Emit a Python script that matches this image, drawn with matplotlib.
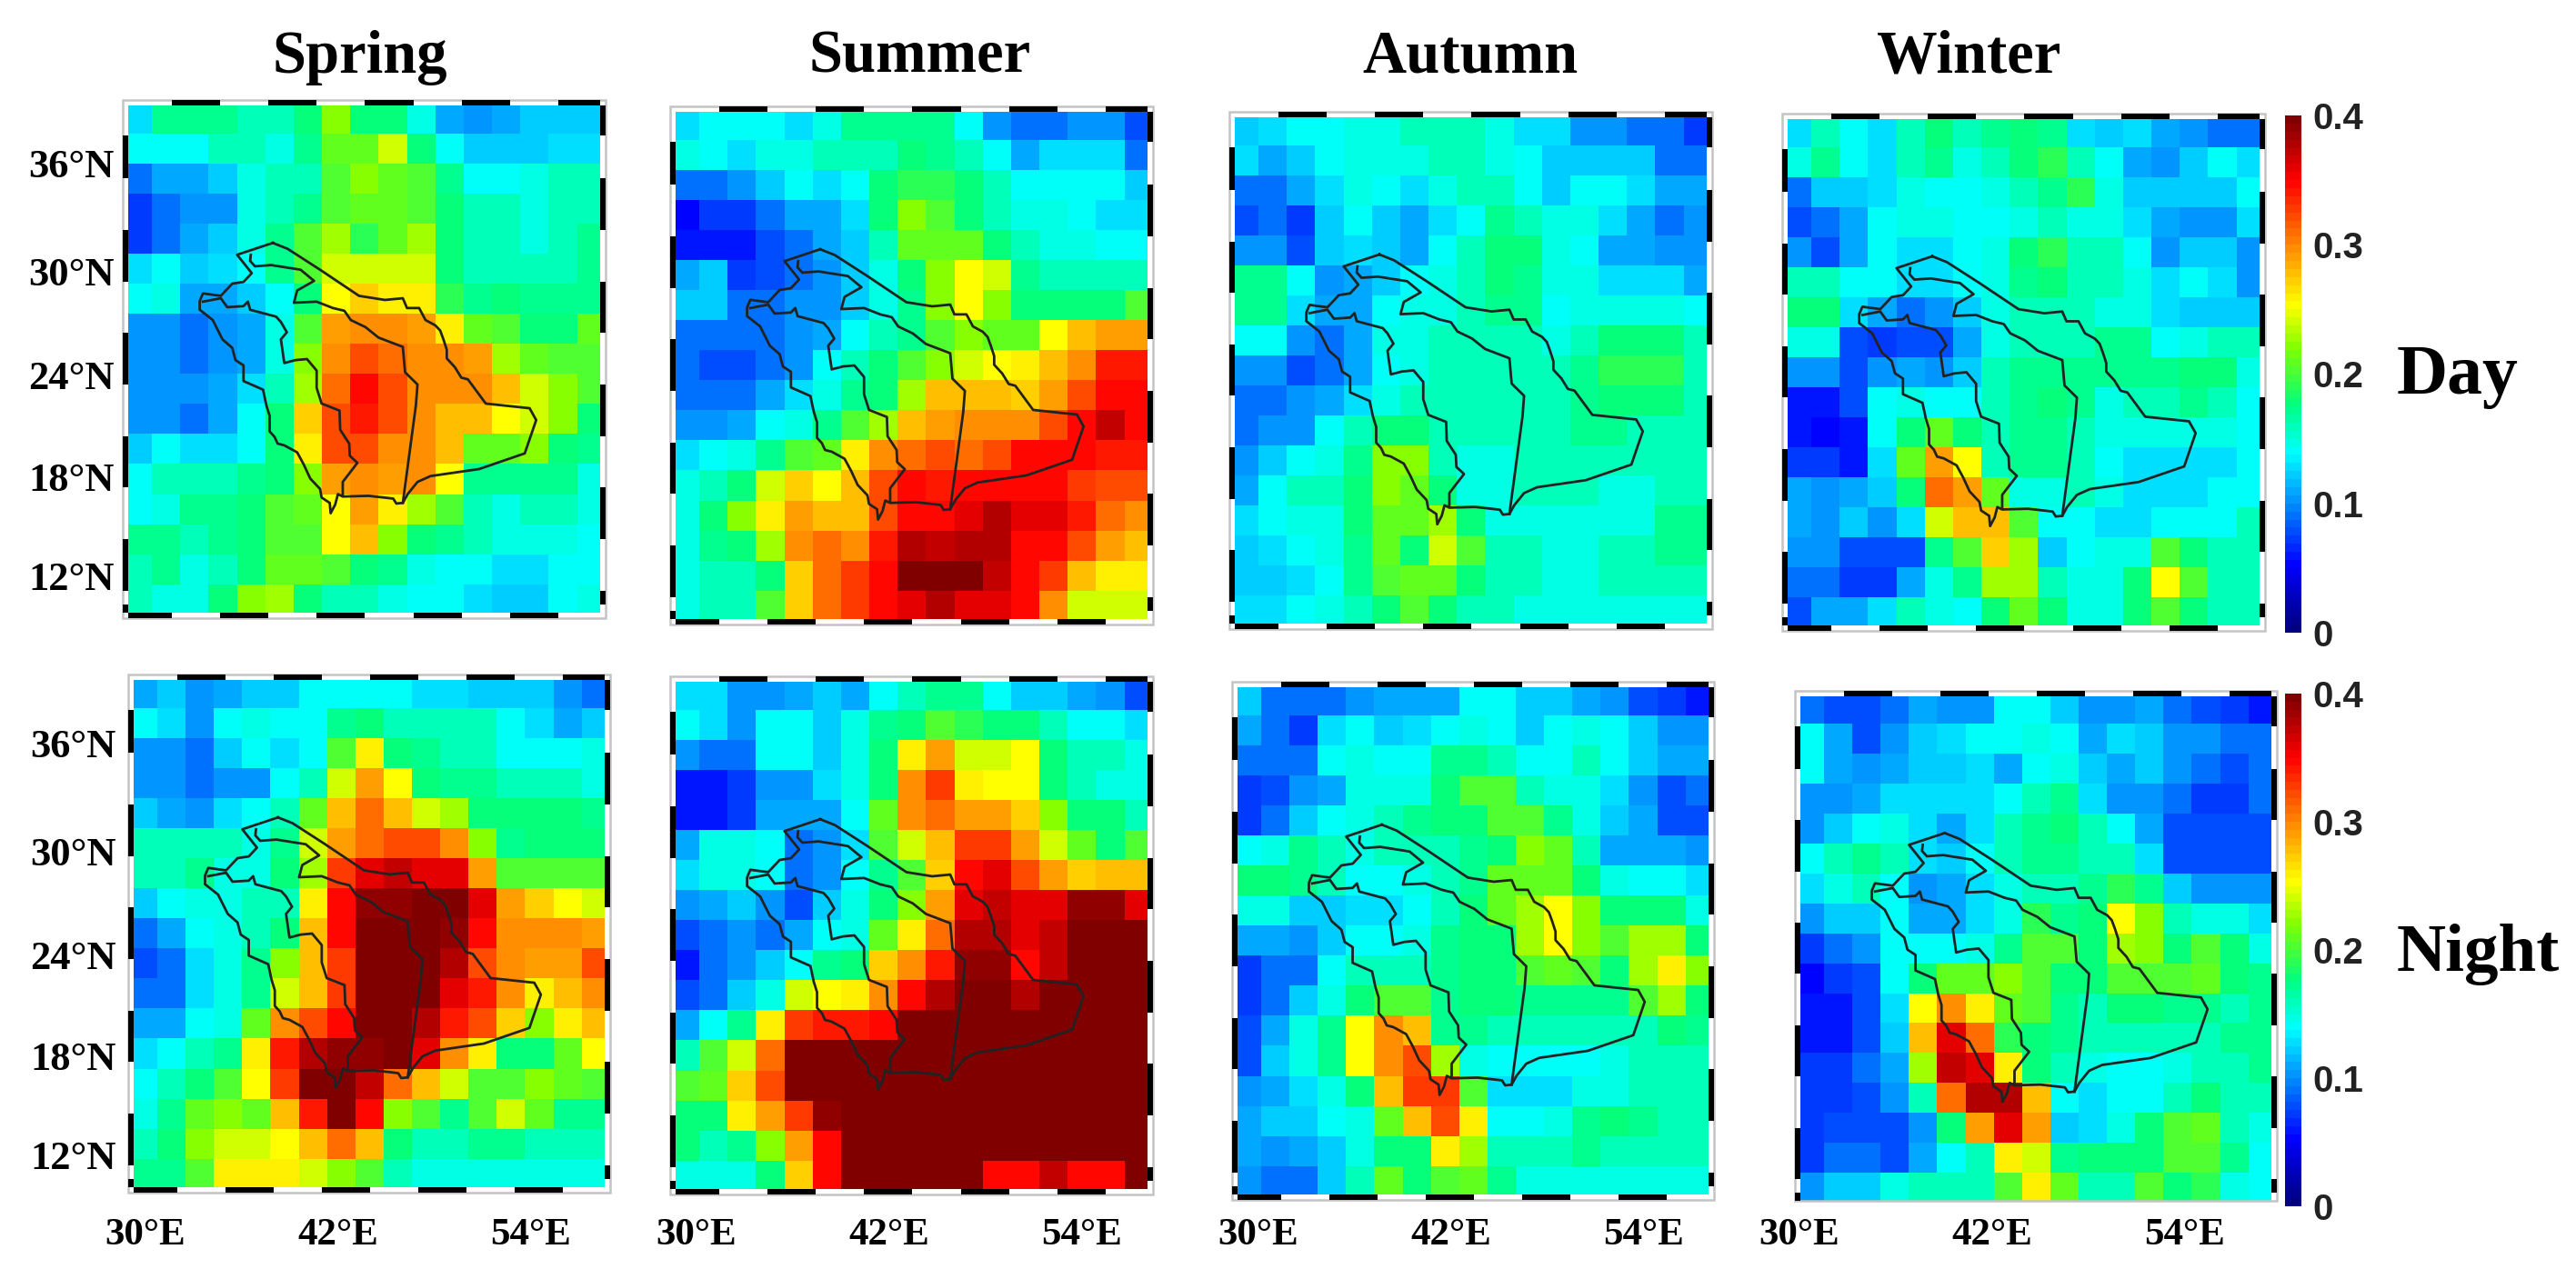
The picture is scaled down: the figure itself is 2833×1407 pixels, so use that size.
import matplotlib
matplotlib.use('Agg')
import matplotlib.pyplot as plt
import numpy as np
from matplotlib.colors import LinearSegmentedColormap
from matplotlib.patches import Rectangle
from matplotlib.cm import ScalarMappable
from matplotlib.colors import Normalize

# cell values in units of 0.01, rows from north to south
spring_day = [
    [13,17,17,17,16,16,18,22,18,18,15,11,10,11,12,12,12],
    [14,14,14,16,16,15,17,21,21,24,18,14,12,12,12,13,13],
    [9,11,11,12,15,16,16,20,22,21,20,17,14,14,15,16,16],
    [7,9,10,10,15,16,17,20,21,21,20,18,16,16,15,16,16],
    [7,9,11,12,15,17,20,23,19,21,23,18,16,16,15,16,17],
    [13,14,12,13,14,17,20,24,24,24,24,18,16,16,16,16,17],
    [14,15,11,11,12,14,18,25,27,26,26,19,17,18,17,17,17],
    [10,10,9,10,11,15,20,29,30,30,29,26,21,20,18,18,21],
    [10,10,9,10,11,15,22,30,32,31,30,30,29,23,21,20,20],
    [10,10,10,11,13,16,23,31,35,32,30,30,30,28,24,22,20],
    [10,10,9,11,14,18,27,32,34,32,30,28,28,25,24,22,18],
    [12,14,13,13,14,18,26,32,32,30,30,28,21,21,22,18,17],
    [14,16,16,16,17,18,22,29,30,29,30,25,17,17,17,17,15],
    [14,15,17,17,18,20,21,25,29,26,23,20,16,15,16,16,15],
    [17,17,16,17,18,20,20,25,28,22,18,17,16,15,15,15,14],
    [16,17,15,16,18,21,21,20,18,17,15,14,14,13,13,14,14],
    [16,15,15,18,22,23,18,16,16,15,14,14,13,12,12,14,15],
]
summer_day = [
    [13,14,14,14,13,15,17,17,17,17,14,10,9,9,10,10,8],
    [15,14,13,15,15,16,16,16,18,17,16,14,11,13,13,13,9],
    [9,9,10,12,14,13,14,18,19,19,18,16,14,14,14,14,12],
    [5,7,7,9,11,11,13,18,22,20,18,16,15,15,14,13,13],
    [6,6,6,8,9,11,12,16,21,21,21,18,16,15,15,14,14],
    [11,12,7,8,9,10,12,15,18,22,25,24,17,16,16,16,16],
    [12,12,9,9,10,10,12,15,17,22,25,22,18,18,18,18,20],
    [9,9,9,9,10,11,14,16,17,20,22,21,21,25,28,29,29],
    [9,8,8,9,10,14,16,18,20,22,24,25,26,28,30,34,34],
    [9,9,9,11,13,15,17,18,23,28,28,28,27,29,32,35,35],
    [10,10,11,14,15,17,20,23,28,29,30,30,30,32,35,37,35],
    [13,14,15,17,20,21,26,30,31,32,31,32,35,35,35,34,34],
    [15,16,18,24,27,25,28,32,35,34,35,35,35,35,33,32,32],
    [15,18,22,26,29,28,28,32,35,35,36,38,36,36,34,31,30],
    [15,17,18,23,30,31,30,34,38,37,38,38,35,35,32,29,28],
    [15,16,16,18,27,31,33,35,40,40,40,37,35,33,28,26,26],
    [15,16,16,20,27,31,33,35,36,38,36,36,35,30,24,24,24],
]
autumn_day = [
    [12,13,14,14,15,15,16,16,16,15,13,13,10,10,9,9,7],
    [13,11,12,14,15,15,15,16,16,15,14,12,12,12,12,9,9],
    [9,9,11,13,15,14,13,15,16,16,14,12,14,14,13,11,11],
    [8,9,7,12,14,12,11,13,14,17,16,15,15,13,11,9,10],
    [10,10,8,12,13,12,11,14,16,18,18,15,14,11,11,10,10],
    [17,17,14,10,11,12,14,15,16,18,17,15,15,13,13,13,11],
    [17,17,13,11,11,14,15,15,16,17,17,14,15,15,15,15,14],
    [14,14,10,9,11,15,15,16,16,16,16,15,16,18,18,18,16],
    [10,10,8,9,11,14,15,16,16,16,16,16,17,19,19,19,16],
    [9,9,10,11,13,15,16,16,16,16,16,16,17,18,18,18,16],
    [9,10,10,14,16,18,18,16,16,16,16,16,17,17,16,16,16],
    [10,12,14,15,17,22,22,16,15,15,16,16,16,16,16,16,16],
    [11,14,16,16,18,22,21,18,15,15,16,16,16,15,15,16,16],
    [13,14,15,15,18,21,21,23,18,15,15,15,15,15,15,17,17],
    [12,13,14,15,17,21,18,24,20,16,16,15,15,16,16,17,17],
    [12,12,13,14,17,20,21,21,18,16,16,15,15,16,16,16,16],
    [13,13,14,15,16,18,20,18,16,16,15,15,15,15,15,15,15],
]
winter_day = [
    [13,16,14,13,16,18,16,17,18,17,13,12,13,11,10,9,9],
    [15,17,14,13,16,17,15,16,18,19,16,14,11,10,12,14,13],
    [9,12,12,13,15,14,14,15,16,17,19,15,12,12,12,12,14],
    [8,9,11,14,15,15,14,14,15,16,15,15,13,11,10,10,13],
    [10,8,11,14,13,13,14,15,18,19,16,16,14,10,12,12,10],
    [16,16,14,14,13,13,14,15,17,18,16,16,15,13,14,13,10],
    [18,18,13,11,9,10,12,15,16,16,16,15,15,13,12,12,12],
    [15,15,8,7,8,8,11,15,16,16,16,17,17,14,15,16,16],
    [10,10,8,10,11,10,12,16,17,17,17,17,17,17,18,18,15],
    [6,6,8,14,15,14,14,16,17,18,17,15,16,16,17,16,14],
    [6,5,6,14,18,21,18,16,17,17,16,15,15,15,15,15,14],
    [7,7,6,13,21,29,25,16,17,17,16,14,13,13,13,13,14],
    [11,10,11,12,18,31,29,21,15,15,16,15,13,13,13,14,14],
    [11,10,12,10,13,24,28,28,20,14,14,13,13,14,14,14,16],
    [10,10,8,8,8,17,20,27,23,12,14,15,15,20,18,16,16],
    [9,9,7,7,11,15,17,23,23,16,15,15,18,25,20,16,16],
    [8,11,11,13,16,15,14,18,21,18,15,15,18,20,18,16,16],
]
spring_night = [
    [11,12,10,11,12,12,14,14,14,14,13,13,12,12,12,10,9],
    [14,13,10,14,15,14,14,17,18,16,16,16,16,14,13,11,12],
    [10,10,9,12,14,13,14,20,26,18,17,16,16,14,14,14,15],
    [10,10,9,10,10,14,16,24,29,25,18,17,17,16,16,16,15],
    [12,11,10,13,14,16,21,28,31,28,24,23,18,18,18,18,17],
    [16,16,16,16,15,17,24,29,31,32,32,30,22,17,18,18,18],
    [16,16,17,15,15,18,23,33,36,37,36,36,29,20,20,20,20],
    [12,14,15,15,16,16,26,35,39,39,40,40,36,29,27,25,24],
    [9,11,14,15,16,18,28,35,40,40,40,39,35,30,30,30,29],
    [8,9,13,15,17,22,28,33,40,40,40,38,32,30,29,29,32],
    [9,9,13,15,17,24,28,33,40,40,40,36,34,30,26,28,30],
    [11,11,14,15,21,30,32,35,40,40,38,34,32,27,22,26,28],
    [13,14,16,17,26,34,38,39,39,40,36,30,26,18,18,21,25],
    [14,16,18,20,25,33,40,40,37,31,28,24,20,20,22,21,20],
    [15,17,21,22,21,28,34,40,35,22,20,17,20,24,21,17,17],
    [16,18,22,24,24,25,28,31,28,18,16,16,17,17,16,16,16],
    [17,17,20,26,26,26,24,22,20,16,15,15,15,15,15,15,15],
]
summer_night = [
    [13,13,10,10,11,12,11,14,16,17,17,14,12,12,11,10,8],
    [14,13,10,14,14,12,15,17,18,20,19,18,18,16,14,14,13],
    [10,9,9,14,14,12,15,18,26,29,24,24,25,18,16,16,15],
    [6,6,7,10,10,13,15,18,30,33,26,25,25,18,16,15,15],
    [6,6,7,11,11,11,14,21,30,31,29,29,27,22,18,18,16],
    [11,15,15,14,9,10,13,20,24,28,33,33,29,24,21,18,20],
    [13,15,15,14,9,10,14,17,20,27,35,36,32,29,27,28,28],
    [10,11,12,10,8,12,15,18,22,29,36,37,36,36,39,39,36],
    [8,9,10,9,11,14,15,21,26,31,38,38,36,37,40,40,40],
    [6,9,10,12,14,17,18,27,30,34,39,39,35,37,40,40,40],
    [8,9,12,15,24,25,26,30,35,38,40,40,38,40,40,40,40],
    [11,14,17,26,33,34,34,35,40,40,40,40,40,40,40,40,40],
    [16,20,24,31,40,40,40,40,40,40,40,40,40,40,40,40,40],
    [20,21,27,32,40,40,40,40,40,40,40,40,40,40,40,40,40],
    [18,18,26,29,33,39,40,40,40,40,40,40,40,40,40,40,40],
    [18,16,17,22,29,35,40,40,40,40,40,40,40,40,40,40,40],
    [15,15,15,18,27,35,40,40,40,40,40,35,35,37,35,35,40],
]
autumn_night = [
    [12,9,9,9,10,11,11,11,14,14,12,12,11,10,8,7,6],
    [11,9,7,13,14,12,13,14,15,14,12,14,15,14,12,10,10],
    [9,9,9,14,15,14,14,17,17,16,14,14,16,14,12,11,11],
    [7,8,10,11,15,15,15,18,20,20,16,15,15,13,10,8,9],
    [7,9,12,14,15,16,17,18,18,20,20,17,15,12,11,8,8],
    [14,15,17,16,15,16,16,16,17,18,22,21,16,11,11,11,10],
    [18,18,17,16,14,14,15,16,17,21,21,21,18,15,14,14,13],
    [15,15,12,12,13,13,14,16,18,21,23,25,22,18,18,18,15],
    [11,11,10,12,14,14,15,17,18,18,23,25,22,20,23,23,18],
    [7,9,9,14,16,16,16,17,18,18,20,21,20,18,23,26,22],
    [7,9,12,15,18,20,20,17,18,18,17,17,17,17,20,23,18],
    [8,11,15,17,25,30,28,17,17,16,16,16,16,16,16,18,17],
    [8,12,15,17,25,30,32,23,15,14,14,14,14,15,16,16,16],
    [10,11,13,15,18,28,33,33,20,13,13,13,15,15,16,16,16],
    [11,12,12,14,15,21,28,32,26,14,14,15,17,18,17,16,16],
    [11,10,11,12,15,18,18,26,23,16,16,16,17,16,16,16,16],
    [10,9,9,12,16,21,18,20,21,17,15,15,15,15,15,15,15],
]
winter_night = [
    [9,8,8,9,11,10,10,14,14,12,10,10,11,9,8,7,6],
    [14,11,8,10,12,13,14,14,15,14,11,13,12,10,10,9,9],
    [14,11,10,11,12,12,13,11,14,15,12,11,12,10,9,8,9],
    [10,10,11,13,13,13,13,14,16,17,13,10,10,9,7,7,9],
    [10,12,14,15,13,11,13,16,17,18,16,14,11,8,8,8,8],
    [14,16,17,16,13,12,14,16,17,17,16,16,13,8,8,8,8],
    [13,15,16,14,10,11,13,15,16,16,17,19,17,12,10,10,10],
    [10,12,12,14,11,11,13,15,19,17,18,25,22,16,15,15,13],
    [7,9,10,14,14,14,15,17,20,20,18,23,22,18,20,18,15],
    [5,7,8,14,18,21,21,22,20,18,18,20,20,20,21,18,17],
    [6,6,8,13,25,30,26,21,20,17,16,18,18,17,17,16,17],
    [6,6,8,12,28,36,31,19,18,17,16,16,16,16,16,17,17],
    [7,7,9,11,23,37,36,26,18,16,15,14,14,15,16,16,17],
    [7,7,8,10,16,31,38,38,28,14,13,14,14,16,18,16,16],
    [7,8,8,8,10,18,29,36,29,12,13,15,18,20,21,16,15],
    [7,9,9,8,11,14,16,26,24,17,18,18,18,20,20,17,14],
    [10,12,12,15,16,16,16,20,26,21,16,16,20,18,19,15,14],
]

# Saudi outline and two inner basin lines (lon, lat)
border_lon = [37.68,38.59,40.61,43.03,44.64,45.75,46.01,46.76,47.16,47.77,48.07,48.27,48.48,48.48,48.98,49.38,49.79,50.90,53.62,54.03,53.32,50.49,47.47,46.66,46.05,45.75,45.35,45.15,43.63,42.02,41.72,41.55,41.27,41.21,40.71,40.61,40.00,39.60,39.19,38.39,37.98,37.78,37.48,37.48,37.28,37.07,35.86,35.86,35.36,35.16,34.55,33.95,33.14,33.14,33.34,34.45,35.16,35.86,36.37,35.46,37.68]
border_lat = [31.94,31.60,30.38,28.86,28.62,28.72,28.15,28.15,27.45,27.14,26.84,26.33,25.72,25.22,24.71,24.10,24.00,22.59,22.32,21.63,19.69,18.78,18.37,18.03,17.32,16.81,16.77,17.06,17.22,17.18,17.32,16.71,16.21,16.81,17.12,17.62,18.23,19.04,19.75,20.16,20.26,20.66,20.97,21.88,22.48,23.40,23.90,24.81,25.12,25.83,26.33,27.45,28.05,28.56,29.00,28.86,29.57,29.67,30.18,31.25,31.94]
west_lon = [33.34,34.45,34.85,35.86,36.13,36.27,37.88,38.18,38.55,38.18,38.39,39.09,39.80,40.40,40.40,40.71,41.82,41.86,42.42,42.46,42.93,42.02,42.02]
west_lat = [28.52,28.72,28.20,28.26,28.52,28.05,27.65,27.34,26.74,26.33,24.95,25.12,25.18,24.51,23.50,22.59,22.18,21.07,20.26,19.55,19.14,18.03,17.22]
east_lon = [36.31,36.27,36.57,37.58,39.40,40.24,39.19,38.99,40.40,41.41,42.12,42.52,43.43,44.24,45.75,45.89,46.66,46.56,45.75]
east_lat = [31.25,30.89,30.58,30.65,30.38,29.73,29.17,28.46,28.52,28.15,27.99,27.45,27.04,26.43,25.89,24.41,23.70,22.48,16.81]

lon_labels = ['30°E', '42°E', '54°E']
lat_labels = ['36°N', '30°N', '24°N', '18°N', '12°N']
seasons = ['Spring', 'Summer', 'Autumn', 'Winter']
cbar_ticks = [0, 0.1, 0.2, 0.3, 0.4]
cbar_ticklabels = ['0', '0.1', '0.2', '0.3', '0.4']

W, H = 2833, 1407
serif = 'Liberation Serif'
sans = 'Liberation Sans'

fig = plt.figure(figsize=(W / 100, H / 100), dpi=100)

cmap = LinearSegmentedColormap.from_list('aod', [
    (0.0, (0, 0, 0.5)), (0.125, (0, 0, 1)), (0.345, (0, 1, 1)), (0.44, (0, 1, 0.5)),
    (0.55, (0.5, 1, 0)), (0.635, (1, 1, 0)), (0.76, (1, 0.5, 0)), (0.88, (1, 0, 0)),
    (1.0, (0.5, 0, 0))], N=64)
norm = Normalize(0, 0.4)

# map window and grid
lon_min, lon_max = 28.7, 58.0
lat_min, lat_max = 10.42, 39.94
lon_edges = 30.17 + 1.76 * np.arange(-1, 17)
lat_edges = 38.32 - 1.75 * np.arange(-1, 17)
lon_edges[0], lon_edges[-1] = lon_min, lon_max
lat_edges[0], lat_edges[-1] = lat_max, lat_min

frame_lon = [lon_min, 31.4, 34.4, 37.4, 40.4, 43.4, 46.4, 49.4, 52.4, 55.4, lon_max]
frame_lat = [lat_max, 38.2, 35.7, 32.7, 29.7, 26.7, 23.7, 20.7, 17.7, 14.7, 11.7, 10.9, lat_min]


def px_axes(left, top, right, bottom):
    return fig.add_axes([left / W, 1 - bottom / H, (right - left) / W, (bottom - top) / H])


def px_text(x, y, s, **kw):
    fig.text(x / W, 1 - y / H, s, **kw)


def add_frame(ax, w, h, bottom=True):
    px, py = 6 / w, 6 / h
    tx, ty = ax.get_xaxis_transform(), ax.get_yaxis_transform()
    ax.add_patch(Rectangle((-px, -py if bottom else 0), 1 + 2 * px, 1 + py + (py if bottom else 0),
                           transform=ax.transAxes, fill=False, ec='#c4c4c4', lw=1.8, clip_on=False))
    for i in range(len(frame_lon) - 1):
        x0, x1 = frame_lon[i], frame_lon[i + 1]
        if i % 2 == 1:
            ax.add_patch(Rectangle((x0, 1), x1 - x0, py, transform=tx, color='k', lw=0, clip_on=False))
        elif bottom:
            ax.add_patch(Rectangle((x0, -py), x1 - x0, py, transform=tx, color='k', lw=0, clip_on=False))
    for i in range(len(frame_lat) - 1):
        y0, y1 = frame_lat[i + 1], frame_lat[i]
        if i % 2 == 1:
            ax.add_patch(Rectangle((-px, y0), px, y1 - y0, transform=ty, color='k', lw=0, clip_on=False))
        else:
            ax.add_patch(Rectangle((1, y0), px, y1 - y0, transform=ty, color='k', lw=0, clip_on=False))


def draw_panel(values, box, bottom=True):
    ax = px_axes(*box)
    ax.pcolormesh(lon_edges, lat_edges, np.array(values) / 100, cmap=cmap, norm=norm)
    ax.plot(border_lon, border_lat, color='#222222', lw=2)
    ax.plot(west_lon, west_lat, color='#222222', lw=2)
    ax.plot(east_lon, east_lat, color='#222222', lw=2)
    ax.set_xlim(lon_min, lon_max)
    ax.set_ylim(lat_min, lat_max)
    ax.set_xticks([])
    ax.set_yticks([])
    for s in ax.spines.values():
        s.set_visible(False)
    add_frame(ax, box[2] - box[0], box[3] - box[1], bottom)


draw_panel(spring_day, (141, 116, 660, 674))
draw_panel(summer_day, (743, 123, 1262, 681))
draw_panel(autumn_day, (1358, 129, 1877, 686))
draw_panel(winter_day, (1966, 131, 2485, 688))
draw_panel(spring_night, (147, 748, 665, 1306))
draw_panel(summer_night, (743, 750, 1262, 1308))
draw_panel(autumn_night, (1361, 756, 1879, 1314))
draw_panel(winter_night, (1980, 766, 2498, 1321), bottom=False)

for name, x in zip(seasons, [396, 1012, 1617, 2165]):
    px_text(x, 63, name, family=serif, weight='bold', fontsize=48, ha='center', va='center')

for x0 in [160, 766, 1384, 1979]:
    for i, lab in enumerate(lon_labels):
        px_text(x0 + 212 * i, 1359, lab, family=serif, weight='bold', fontsize=31, ha='center', va='center')

for y_pos, x_right in [([184, 303, 417, 529, 638], 126), ([822, 941, 1055, 1166, 1275], 128)]:
    for y, lab in zip(y_pos, lat_labels):
        px_text(x_right, y, lab, family=serif, weight='bold', fontsize=32, ha='right', va='center')

for top, bottom in [(127, 696), (763, 1327)]:
    cax = px_axes(2513, top, 2531, bottom)
    cb = fig.colorbar(ScalarMappable(norm=norm, cmap=cmap), cax=cax, ticks=cbar_ticks)
    cb.ax.set_yticklabels(cbar_ticklabels, family=sans, weight='bold', fontsize=29, color='#222222')
    cb.ax.tick_params(length=0, pad=9)
    cb.outline.set_visible(False)

px_text(2703, 414, 'Day', family=serif, weight='bold', fontsize=56, ha='center', va='center')
px_text(2725, 1050, 'Night', family=serif, weight='bold', fontsize=54, ha='center', va='center')

fig.savefig('out.png', dpi=100)
